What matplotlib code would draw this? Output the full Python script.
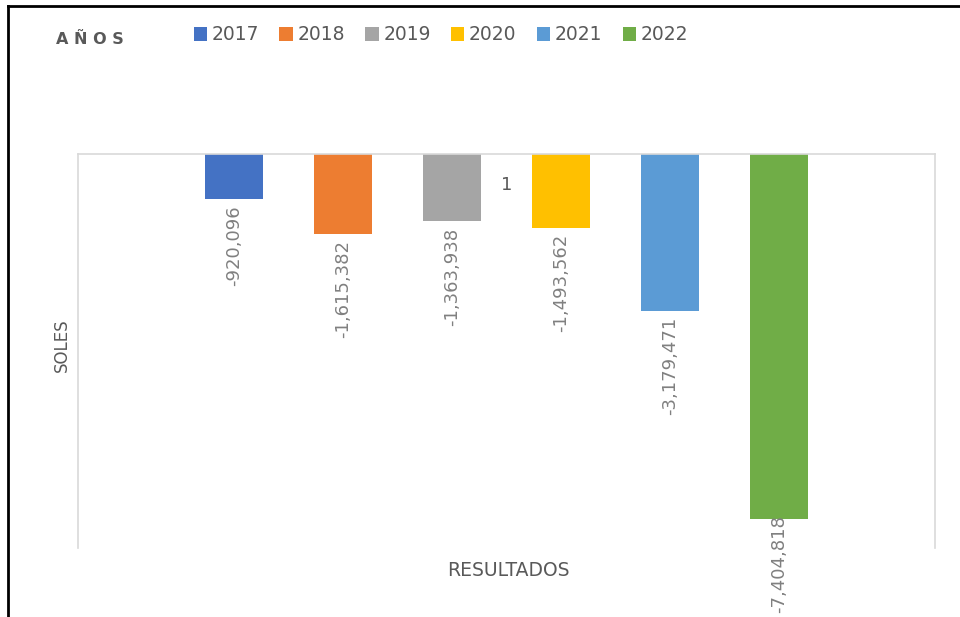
import matplotlib
matplotlib.use("Agg")
from matplotlib import pyplot as plt
from matplotlib.patches import Patch
import matplotlib.lines as mlines

years = ["2017", "2018", "2019", "2020", "2021", "2022"]
results = [-920096, -1615382, -1363938, -1493562, -3179471, -7404818]
labels = ["-920,096", "-1,615,382", "-1,363,938", "-1,493,562", "-3,179,471", "-7,404,818"]
colors = ["#4472C4", "#ED7D31", "#A5A5A5", "#FFC000", "#5B9BD5", "#70AD47"]
category = "1"

W, H = 960, 617
fig = plt.figure(figsize=(W / 100, H / 100), dpi=100)
ax = fig.add_axes([78 / W, 1 - 548 / H, (935 - 78) / W, (548 - 154) / H])

text_gray = "#595959"
label_gray = "#808080"

xs = list(range(len(years)))
ax.bar(xs, results, width=0.525, color=colors)

value_texts = []
for x, v, lab in zip(xs, results, labels):
    t = ax.annotate(lab, xy=(x, v), xytext=(0, -4.5), textcoords="offset points",
                    rotation=90, ha="center", va="top", fontsize=13, color=label_gray)
    value_texts.append(t)

# category label sits just under the zero line in the middle of the group
ax.annotate(category, xy=(2.5, 0), xytext=(0, -22), textcoords="offset points",
            ha="center", va="center", fontsize=13, color=text_gray)

ax.set_xlim(-1.43, 6.43)
ax.set_ylim(-8000000, 0)
ax.set_xticks([])
ax.set_yticks([])
for side in ("top", "left", "right"):
    ax.spines[side].set_color("#D9D9D9")
    ax.spines[side].set_linewidth(1.2)
ax.spines["bottom"].set_visible(False)

fig.text(62 / W, 1 - 345 / H, "SOLES", rotation=90, ha="center", va="center",
         fontsize=12, color=text_gray)
fig.text(508 / W, 1 - 570 / H, "RESULTADOS", ha="center", va="center",
         fontsize=13.5, color=text_gray)
fig.text(90 / W, 1 - 40 / H, "A Ñ O S", ha="center", va="center",
         fontsize=11.5, fontweight="bold", color=text_gray)

handles = [Patch(facecolor=c, label=y) for c, y in zip(colors, years)]
fig.legend(handles=handles, loc="center", bbox_to_anchor=(441 / W, 1 - 35 / H),
           ncol=6, frameon=False, fontsize=13.5, handlelength=0.7, handleheight=0.7,
           handletextpad=0.25, columnspacing=1.1, labelcolor=text_gray)

# black frame on the left and top edges of the picture
fig.add_artist(mlines.Line2D([8 / W, 8 / W], [0, 1 - 6 / H], color="black", lw=2))
fig.add_artist(mlines.Line2D([8 / W, 1], [1 - 6 / H, 1 - 6 / H], color="black", lw=2))

# a label that would run off the bottom is pushed up onto the bar, like Excel does
fig.canvas.draw()
renderer = fig.canvas.get_renderer()
for t in value_texts:
    bb = t.get_window_extent(renderer)
    if bb.y0 < 4:
        shift = (4 - bb.y0) * 72 / fig.dpi
        t.set_position((0, -4.5 + shift))

fig.savefig("out.png", dpi=100)
